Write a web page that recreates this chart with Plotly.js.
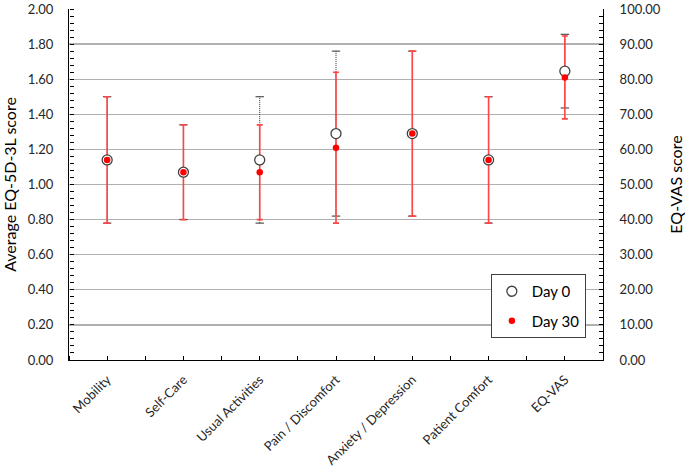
<!DOCTYPE html>
<html>
<head>
<meta charset="utf-8">
<script src="https://cdn.plot.ly/plotly-3.0.1.min.js"></script>
<style>html,body{margin:0;padding:0;background:#fff;}#chart{width:685px;height:470px;}</style>
</head>
<body>
<div id="chart"></div>
<script>
// ---- data ----
const categories = ['Mobility', 'Self-Care', 'Usual Activities', 'Pain / Discomfort', 'Anxiety / Depression', 'Patient Comfort', 'EQ-VAS'];
const eq5dCategories = ['Mobility', 'Self-Care', 'Usual Activities', 'Pain / Discomfort', 'Anxiety / Depression', 'Patient Comfort'];
const day0Mean = [1.14, 1.07, 1.14, 1.29, 1.29, 1.14];
const day0SD = [0.36, 0.27, 0.36, 0.47, 0.47, 0.36];
const day30Mean = [1.14, 1.07, 1.07, 1.21, 1.29, 1.14];
const day30SD = [0.36, 0.27, 0.27, 0.43, 0.47, 0.36];
const vasCategory = ['EQ-VAS'];
const vasDay0Mean = [82.3];
const vasDay0SD = [10.5];
const vasDay30Mean = [80.5];
const vasDay30SD = [11.8];

// ---- helpers ----
const idx = c => categories.indexOf(c);
const xs = cats => cats.map(idx);
function whisker(cats, mean, sd) {
  const x = [], y = [];
  cats.forEach((c, i) => { x.push(idx(c), idx(c), null); y.push(mean[i] - sd[i], mean[i] + sd[i], null); });
  return {x, y};
}
function caps(cats, mean, sd) {
  const x = [], y = [];
  cats.forEach((c, i) => { x.push(idx(c), idx(c)); y.push(mean[i] - sd[i], mean[i] + sd[i]); });
  return {x, y};
}
const font = 'Lato, "Open Sans", sans-serif';
const red = '#ff4545';
const greyDot = '#303030';

const w0 = whisker(eq5dCategories, day0Mean, day0SD);
const w0v = whisker(vasCategory, vasDay0Mean, vasDay0SD);
const c0 = caps(eq5dCategories, day0Mean, day0SD);
const c0v = caps(vasCategory, vasDay0Mean, vasDay0SD);

const traces = [
  {x: w0.x, y: w0.y, mode: 'lines', line: {color: greyDot, width: 1, dash: '1px,1px'}, showlegend: false, hoverinfo: 'skip', yaxis: 'y'},
  {x: w0v.x, y: w0v.y, mode: 'lines', line: {color: greyDot, width: 1, dash: '1px,1px'}, showlegend: false, hoverinfo: 'skip', yaxis: 'y2'},
  {x: c0.x, y: c0.y, mode: 'markers', marker: {symbol: 'line-ew', size: 6, line: {color: greyDot, width: 1}}, showlegend: false, hoverinfo: 'skip', yaxis: 'y'},
  {x: c0v.x, y: c0v.y, mode: 'markers', marker: {symbol: 'line-ew', size: 6, line: {color: greyDot, width: 1}}, showlegend: false, hoverinfo: 'skip', yaxis: 'y2'},
  {x: xs(eq5dCategories), y: day30Mean, mode: 'markers', marker: {size: 1, opacity: 0}, error_y: {type: 'data', array: day30SD, visible: true, color: red, thickness: 1.6, width: 3}, showlegend: false, hoverinfo: 'skip', yaxis: 'y'},
  {x: xs(vasCategory), y: vasDay30Mean, mode: 'markers', marker: {size: 1, opacity: 0}, error_y: {type: 'data', array: vasDay30SD, visible: true, color: red, thickness: 1.6, width: 3}, showlegend: false, hoverinfo: 'skip', yaxis: 'y2'},
  {name: 'Day 0', legendgroup: 'd0', x: xs(eq5dCategories), y: day0Mean, mode: 'markers', marker: {symbol: 'circle', size: 10, color: '#ffffff', line: {color: '#404040', width: 1.3}}, yaxis: 'y'},
  {name: 'Day 0', legendgroup: 'd0', showlegend: false, x: xs(vasCategory), y: vasDay0Mean, mode: 'markers', marker: {symbol: 'circle', size: 10, color: '#ffffff', line: {color: '#404040', width: 1.3}}, yaxis: 'y2'},
  {name: 'Day 30', legendgroup: 'd30', x: xs(eq5dCategories), y: day30Mean, mode: 'markers', marker: {symbol: 'circle', size: 6.5, color: '#ff0000', line: {width: 0}}, yaxis: 'y'},
  {name: 'Day 30', legendgroup: 'd30', showlegend: false, x: xs(vasCategory), y: vasDay30Mean, mode: 'markers', marker: {symbol: 'circle', size: 6.5, color: '#ff0000', line: {width: 0}}, yaxis: 'y2'},
  // invisible carrier so the tick-comb axes (x2 / y3) get drawn
  {x: xs(eq5dCategories), y: day0Mean, xaxis: 'x2', yaxis: 'y3', mode: 'markers', marker: {size: 1, opacity: 0}, showlegend: false, hoverinfo: 'skip'}
];

const layout = {
  width: 685, height: 470,
  margin: {l: 69, r: 82, t: 9, b: 110, pad: 0},
  paper_bgcolor: '#ffffff', plot_bgcolor: 'rgba(0,0,0,0)',
  font: {family: font, size: 13, color: '#262626'},
  showlegend: true,
  legend: {
    x: 0.79, y: 0.245, xanchor: 'left', yanchor: 'top',
    bgcolor: '#ffffff', bordercolor: '#404040', borderwidth: 1,
    font: {family: font, size: 15, color: '#000000'},
    tracegroupgap: 7, itemwidth: 30
  },
  xaxis: {
    type: 'linear', range: [-0.5, 6.5],
    tickmode: 'array', tickvals: xs(categories), ticktext: categories,
    tickangle: -45, ticks: '',
    tickfont: {family: font, size: 13, color: '#262626'},
    showline: true, linecolor: '#000', linewidth: 1,
    showgrid: false, zeroline: false, ticklabelstandoff: 6
  },
  // tick comb pointing up from the bottom axis line
  xaxis2: {
    overlaying: 'x', side: 'top', anchor: 'free', position: 0,
    type: 'linear', range: [-0.5, 6.5], tickmode: 'linear', tick0: -0.5, dtick: 0.5,
    ticks: 'outside', ticklen: 4, tickwidth: 1, tickcolor: '#000000',
    showticklabels: false, showline: false, showgrid: false, zeroline: false
  },
  yaxis: {
    range: [0, 2], tickmode: 'linear', tick0: 0, dtick: 0.2, tickformat: '.2f',
    ticks: '',
    showline: true, linecolor: '#000', linewidth: 1,
    showgrid: true, gridcolor: '#b0b0b0', gridwidth: 1.4, zeroline: false,
    ticklabelstandoff: 12,
    title: {text: 'Average EQ-5D-3L score', font: {family: font, size: 16, color: '#000'}, standoff: 10}
  },
  // tick comb pointing right from the left axis line
  yaxis3: {
    overlaying: 'y', side: 'right', anchor: 'free', position: 0,
    range: [0, 2], tickmode: 'linear', tick0: 0, dtick: 0.04,
    ticks: 'outside', ticklen: 4, tickwidth: 1, tickcolor: '#000000',
    showticklabels: false, showline: false, showgrid: false, zeroline: false
  },
  yaxis2: {
    overlaying: 'y', side: 'right', range: [0, 100], tickmode: 'linear', dtick: 10, tick0: 0, tickformat: '.2f',
    ticks: 'inside', ticklen: 4, tickwidth: 1, tickcolor: '#000000',
    minor: {tickmode: 'linear', dtick: 2, tick0: 0, ticks: 'inside', ticklen: 4, tickwidth: 1, tickcolor: '#000000', showgrid: false},
    showline: true, linecolor: '#000', linewidth: 1,
    showgrid: false, zeroline: false, ticklabelstandoff: 13,
    title: {text: 'EQ-VAS score', font: {family: font, size: 16, color: '#000'}, standoff: 12}
  }
};

Plotly.newPlot('chart', traces, layout, {staticPlot: true, displayModeBar: false});
</script>
</body>
</html>
